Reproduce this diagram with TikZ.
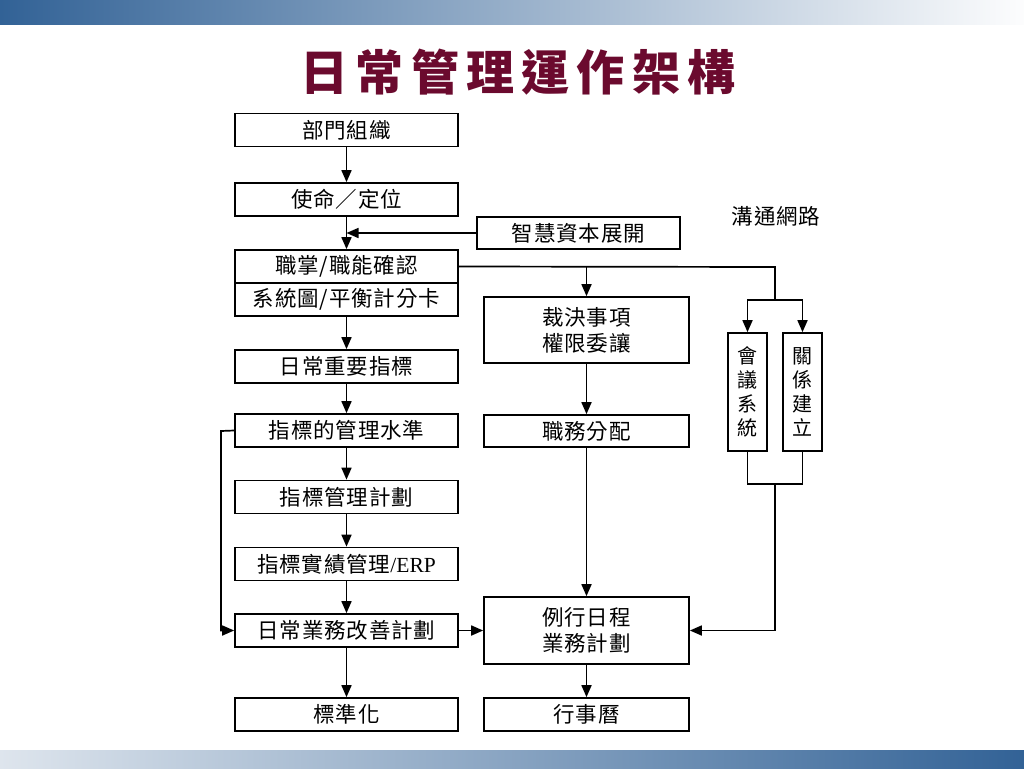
\documentclass[tikz,border=0pt]{standalone}
\usepackage{fontspec}
\setmainfont{Liberation Serif}
\newfontfamily\cjk{Noto Sans CJK TC}
\usetikzlibrary{arrows.meta,calc}
\definecolor{titlered}{RGB}{107,10,46}
\definecolor{barL}{RGB}{50,98,150}
\definecolor{barM}{RGB}{168,180,200}
\definecolor{barLt}{RGB}{222,229,237}
\tikzset{
  box/.style={draw, line width=1.7pt, inner sep=0pt, align=center,
    font=\cjk\fontsize{21.5}{26}\selectfont\addfontfeature{LetterSpace=4}},
  mainbox/.style={box, minimum width=223pt, minimum height=33pt},
  midbox/.style={box, minimum width=205pt, minimum height=33pt},
  tallbox/.style={box, minimum width=39pt, minimum height=118pt,
    font=\cjk\fontsize{20}{24}\selectfont},
  conn/.style={line width=1.7pt},
  arr/.style={conn, -{Triangle[length=12pt,width=10pt]}},
}
\begin{document}
\begin{tikzpicture}[x=1pt,y=-1pt]
\useasboundingbox (0,0) rectangle (1024,768);
\fill[white] (0,0) rectangle (1024,768);
% bars
\shade[left color=barL, middle color=barM, right color=white!97!barM] (0,0) rectangle (1024,25);
\shade[left color=barLt, middle color=barM, right color=barL] (0,750) rectangle (1024,768);
% title
\node[text=titlered, font=\cjk\bfseries\fontsize{48}{56}\selectfont\addfontfeature{LetterSpace=15}] (title) at (518,72) {日常管理運作架構};
% main column
\node[mainbox] (a1) at (346.5,130) {部門組織};
\node[mainbox] (a2) at (346.5,199.5) {使命／定位};
\node[mainbox] (a3) at (346.5,266.5) {職掌/職能確認};
\node[mainbox] (a3b) at (346.5,299.5) {系統圖/平衡計分卡};
\node[mainbox] (a4) at (346.5,366.5) {日常重要指標};
\node[mainbox] (a5) at (346.5,430.5) {指標的管理水準};
\node[mainbox] (a6) at (346.5,497) {指標管理計劃};
\node[mainbox] (a7) at (346.5,564) {指標實績管理{\rmfamily /ERP}};
\node[mainbox] (a8) at (346.5,630.5) {日常業務改善計劃};
\node[mainbox] (a9) at (346.5,714.5) {標準化};
% side
\node[box, minimum width=203pt, minimum height=32pt] (zh) at (578.5,233) {智慧資本展開};
\node[font=\cjk\fontsize{21.5}{26}\selectfont\addfontfeature{LetterSpace=4}] (net) at (776,216) {溝通網路};
% middle column
\node[midbox, minimum height=66pt] (b1) at (586.5,330) {裁決事項\\權限委讓};
\node[midbox, minimum height=32pt] (b2) at (586.5,431) {職務分配};
\node[midbox, minimum height=67pt] (b3) at (586.5,630.5) {例行日程\\業務計劃};
\node[midbox] (b4) at (586.5,714.5) {行事曆};
% right boxes
\node[tallbox] (c1) at (747.5,392) {會\\議\\系\\統};
\node[tallbox] (c2) at (802.5,392) {關\\係\\建\\立};
% coordinates
\coordinate (jr) at (775,267);
\coordinate (js) at (775,300);
\coordinate (jb) at (775,484);
\coordinate (jl) at (221,431);
% main arrows
\draw[arr] (a1) -- (a2);
\draw[arr] (a2) -- (a3);
\draw[arr] (zh.west) -- (zh.west -| a2.south);
\draw[arr] (a3b) -- (a4);
\draw[arr] (a4) -- (a5);
\draw[arr] (a5) -- (a6);
\draw[arr] (a6) -- (a7);
\draw[arr] (a7) -- (a8);
\draw[arr] (a8) -- (a9);
\draw[arr] (a5.west) -- (jl) |- (a8.west);
\draw[arr] (a8) -- (b3);
% middle arrows
\draw[conn] (a3.east) -- (jr) -- (js);
\draw[arr] (a3.east -| b1.north) -- (b1.north);
\draw[arr] (b1) -- (b2);
\draw[arr] (b2) -- (b3);
\draw[arr] (b3) -- (b4);
% right network
\draw[arr] (js) -| (c1.north);
\draw[arr] (js) -| (c2.north);
\draw[conn] (c1.south) |- (jb) -| (c2.south);
\draw[arr] (jb) |- (b3.east);
\end{tikzpicture}
\end{document}
